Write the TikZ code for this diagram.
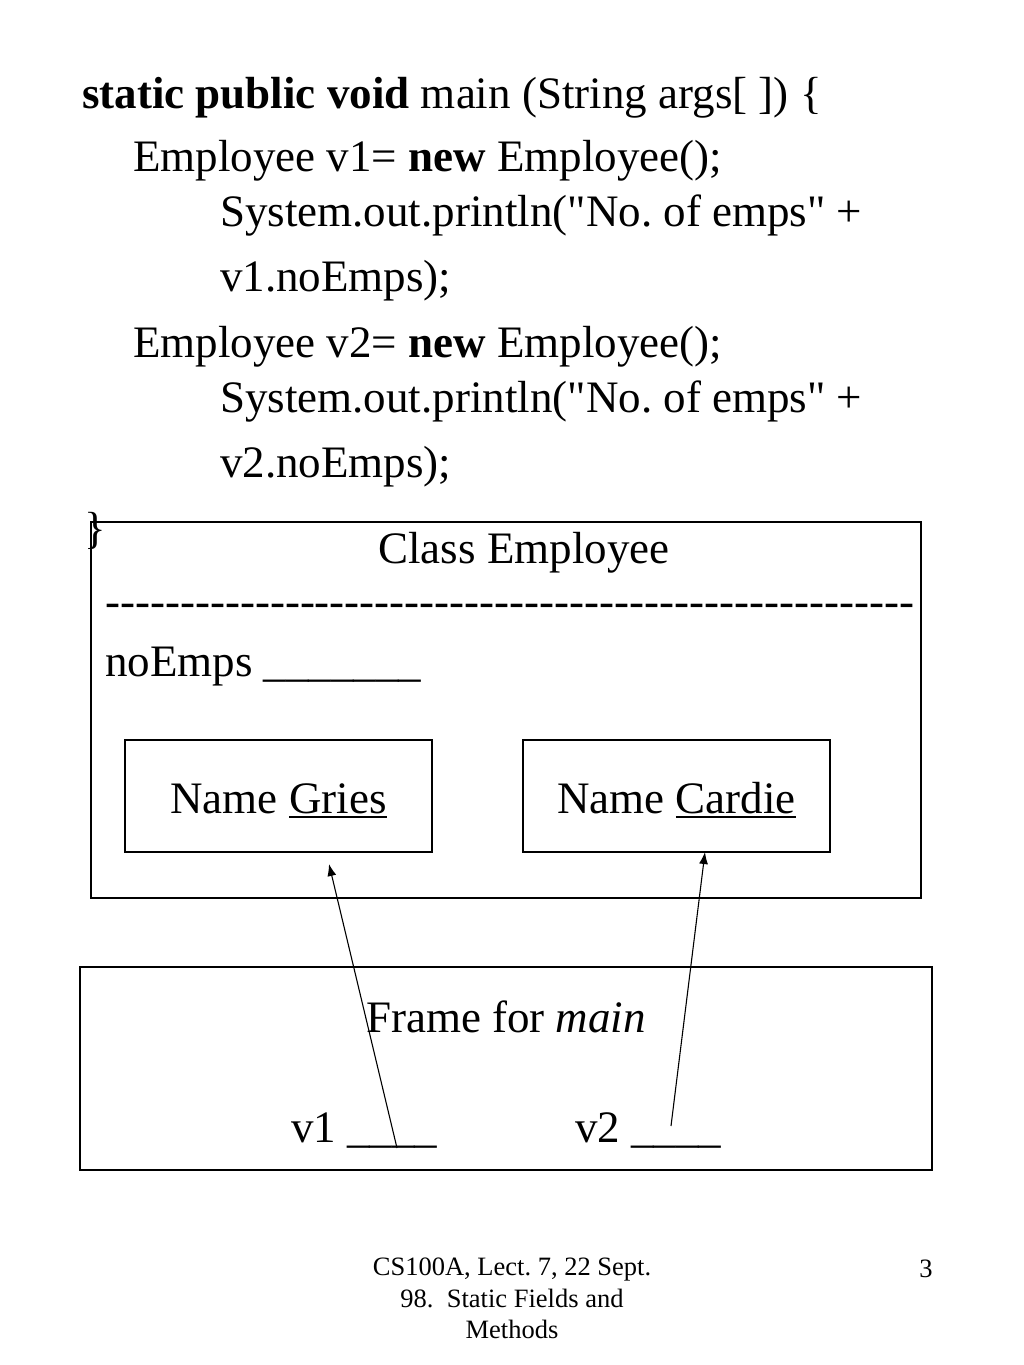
\documentclass[tikz,border=0pt]{standalone}
\usepackage{fontspec}
\setmainfont{Liberation Serif}
\usepackage{tikz}
\usetikzlibrary{arrows.meta}
\frenchspacing
\newcommand{\bigtext}{\fontsize{45}{54}\selectfont}
\newcommand{\hyphenrow}{\foreach \i in {1,...,54}{-}}
\newcommand{\nameline}[1]{\setbox0\hbox{#1}\rlap{\rule[-5pt]{\wd0}{2.5pt}}\box0}
\newcommand{\qt}{\textquotedbl}

\begin{document}
\begin{tikzpicture}[
    x=1pt, y=-1pt,
    codeline/.style={anchor=base west, inner sep=0pt, font=\bigtext},
    midtext/.style={anchor=base, inner sep=0pt, font=\bigtext},
    objbox/.style={draw, line width=1.1pt, inner sep=0pt, font=\bigtext},
    namebox/.style={objbox, minimum width=307pt, minimum height=112pt, text height=40pt, text depth=6pt},
    ptr/.style={-{Latex[length=12pt,width=9pt]}, line width=1.1pt},
]
\path[fill=white] (0,0) rectangle (1024,1365);

% main method
\node[codeline] (l1) at (82,108) {\textbf{static public void} main (String args[ ]) \{};
\node[codeline] (l2) at (133,171) {Employee v1= \textbf{new} Employee();};
\node[codeline] (l3) at (220,226) {System.out.println(\qt No. of emps\qt{} +};
\node[codeline] (l4) at (220,291) {v1.noEmps);};
\node[codeline] (l5) at (133,357) {Employee v2= \textbf{new} Employee();};
\node[codeline] (l6) at (220,412) {System.out.println(\qt No. of emps\qt{} +};
\node[codeline] (l7) at (220,477) {v2.noEmps);};
\node[codeline] (close) at (84,543) {\}};

% Class Employee
\node[objbox, minimum width=830pt, minimum height=376pt] (cls) at (506,710) {};
\node[midtext] (clsname) at (524,563) {Class Employee};
\node[codeline] (sep) at (105,616) {\hyphenrow};
\node[codeline] (noemps) at (105,676) {noEmps \_\_\_\_\_\_\_};

% instances
\node[namebox] (gries) at (278.5,796) {Name \nameline{Gries}};
\node[namebox] (cardie) at (676.5,796) {Name \nameline{Cardie}};

% Frame for main
\node[objbox, minimum width=852pt, minimum height=203pt] (frame) at (506,1068.5) {};
\node[midtext] (frametitle) at (506,1032) {Frame for \textit{main}};
\node[codeline] (v1) at (291,1142) {v1 \_\_\_\_};
\node[codeline] (v2) at (575,1142) {v2 \_\_\_\_};

% Pointers
\coordinate (v1ptr) at (397,1148);
\coordinate (v2ptr) at (671,1126);
\coordinate (griesin) at (329,864);
\coordinate (cardiein) at (705,852);
\draw[ptr] (v1ptr) -- (griesin);
\draw[ptr] (v2ptr) -- (cardiein);

% Footer
\node[anchor=north, align=center, inner sep=0pt, font=\fontsize{26.5}{31.5}\selectfont] (foot) at (512,1258) {CS100A, Lect. 7, 22 Sept.\\98.\ \ Static Fields and\\Methods};
\node[anchor=base, inner sep=0pt, font=\fontsize{26.5}{31.5}\selectfont] (pagenum) at (926,1277) {3};
\end{tikzpicture}
\end{document}
